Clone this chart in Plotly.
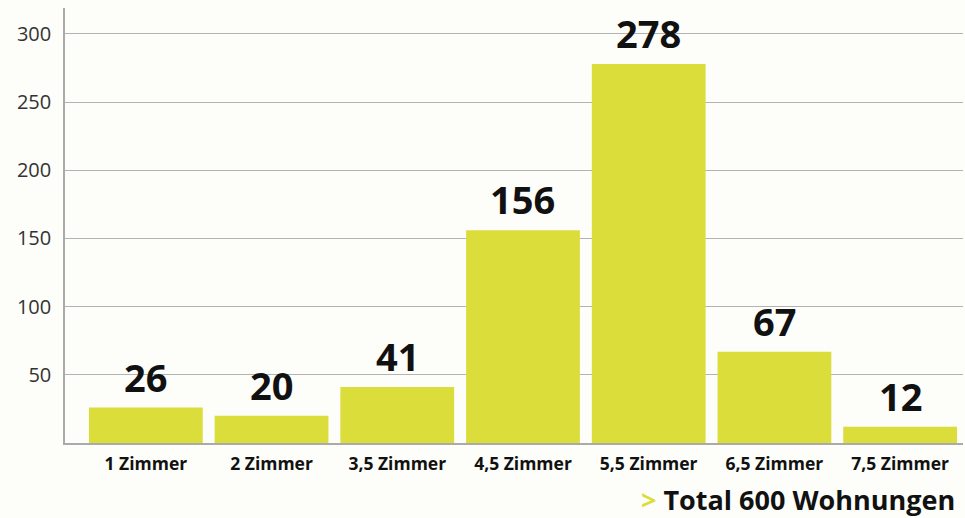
import plotly.graph_objects as go

categories = ["1 Zimmer", "2 Zimmer", "3,5 Zimmer", "4,5 Zimmer", "5,5 Zimmer", "6,5 Zimmer", "7,5 Zimmer"]
values = [26, 20, 41, 156, 278, 67, 12]
y_ticks = [50, 100, 150, 200, 250, 300]
total_label = "Total 600 Wohnungen"

BAR = "#dbdd3a"
BG = "#fdfdf9"
FONT = "Open Sans"

fig = go.Figure()
fig.add_trace(go.Bar(
    x=list(range(len(categories))), y=values,
    marker=dict(color=BAR, line=dict(width=0)),
    width=0.905,
    hoverinfo="skip",
))

annotations = []
for i, v in enumerate(values):
    annotations.append(dict(
        x=i, y=v, xref="x", yref="y", text=f"<b>{v}</b>",
        showarrow=False, yanchor="bottom", yshift=3,
        font=dict(family=FONT, size=38, color="#111111"),
    ))
annotations.append(dict(
    x=1, y=0, xref="paper", yref="paper",
    text=f"<span style='color:{BAR}'><b>&gt;</b></span> <b>{total_label}</b>",
    showarrow=False, xanchor="right", yanchor="middle", xshift=-6, yshift=-56,
    font=dict(family=FONT, size=27, color="#111111"),
))

fig.update_layout(
    width=965, height=518,
    margin=dict(l=65, r=2, t=8, b=75, autoexpand=False),
    paper_bgcolor=BG, plot_bgcolor=BG,
    showlegend=False,
    annotations=annotations,
    xaxis=dict(
        automargin=False,
        range=[-0.643, 6.5],
        tickmode="array", tickvals=list(range(len(categories))),
        ticktext=[f"<b>{c}</b>" for c in categories],
        tickfont=dict(family=FONT, size=17.5, color="#111111"),
        showgrid=False, zeroline=False,
        showline=True, linecolor="#aaaaaa", linewidth=1.5,
        ticks="outside", ticklen=4, tickcolor="rgba(0,0,0,0)",
    ),
    yaxis=dict(
        automargin=False,
        range=[0, 319],
        tickmode="array", tickvals=y_ticks,
        tickfont=dict(family=FONT, size=20, color="#333333"),
        showgrid=True, gridcolor="#b3b3b3", gridwidth=1,
        zeroline=False,
        showline=True, linecolor="#aaaaaa", linewidth=1.5,
        ticks="outside", ticklen=8, tickcolor="rgba(0,0,0,0)",
    ),
)

fig.write_html(
    "out.html",
    config={"displayModeBar": False},
    post_script="document.body.style.margin='0';document.body.style.background='%s';" % BG,
)
